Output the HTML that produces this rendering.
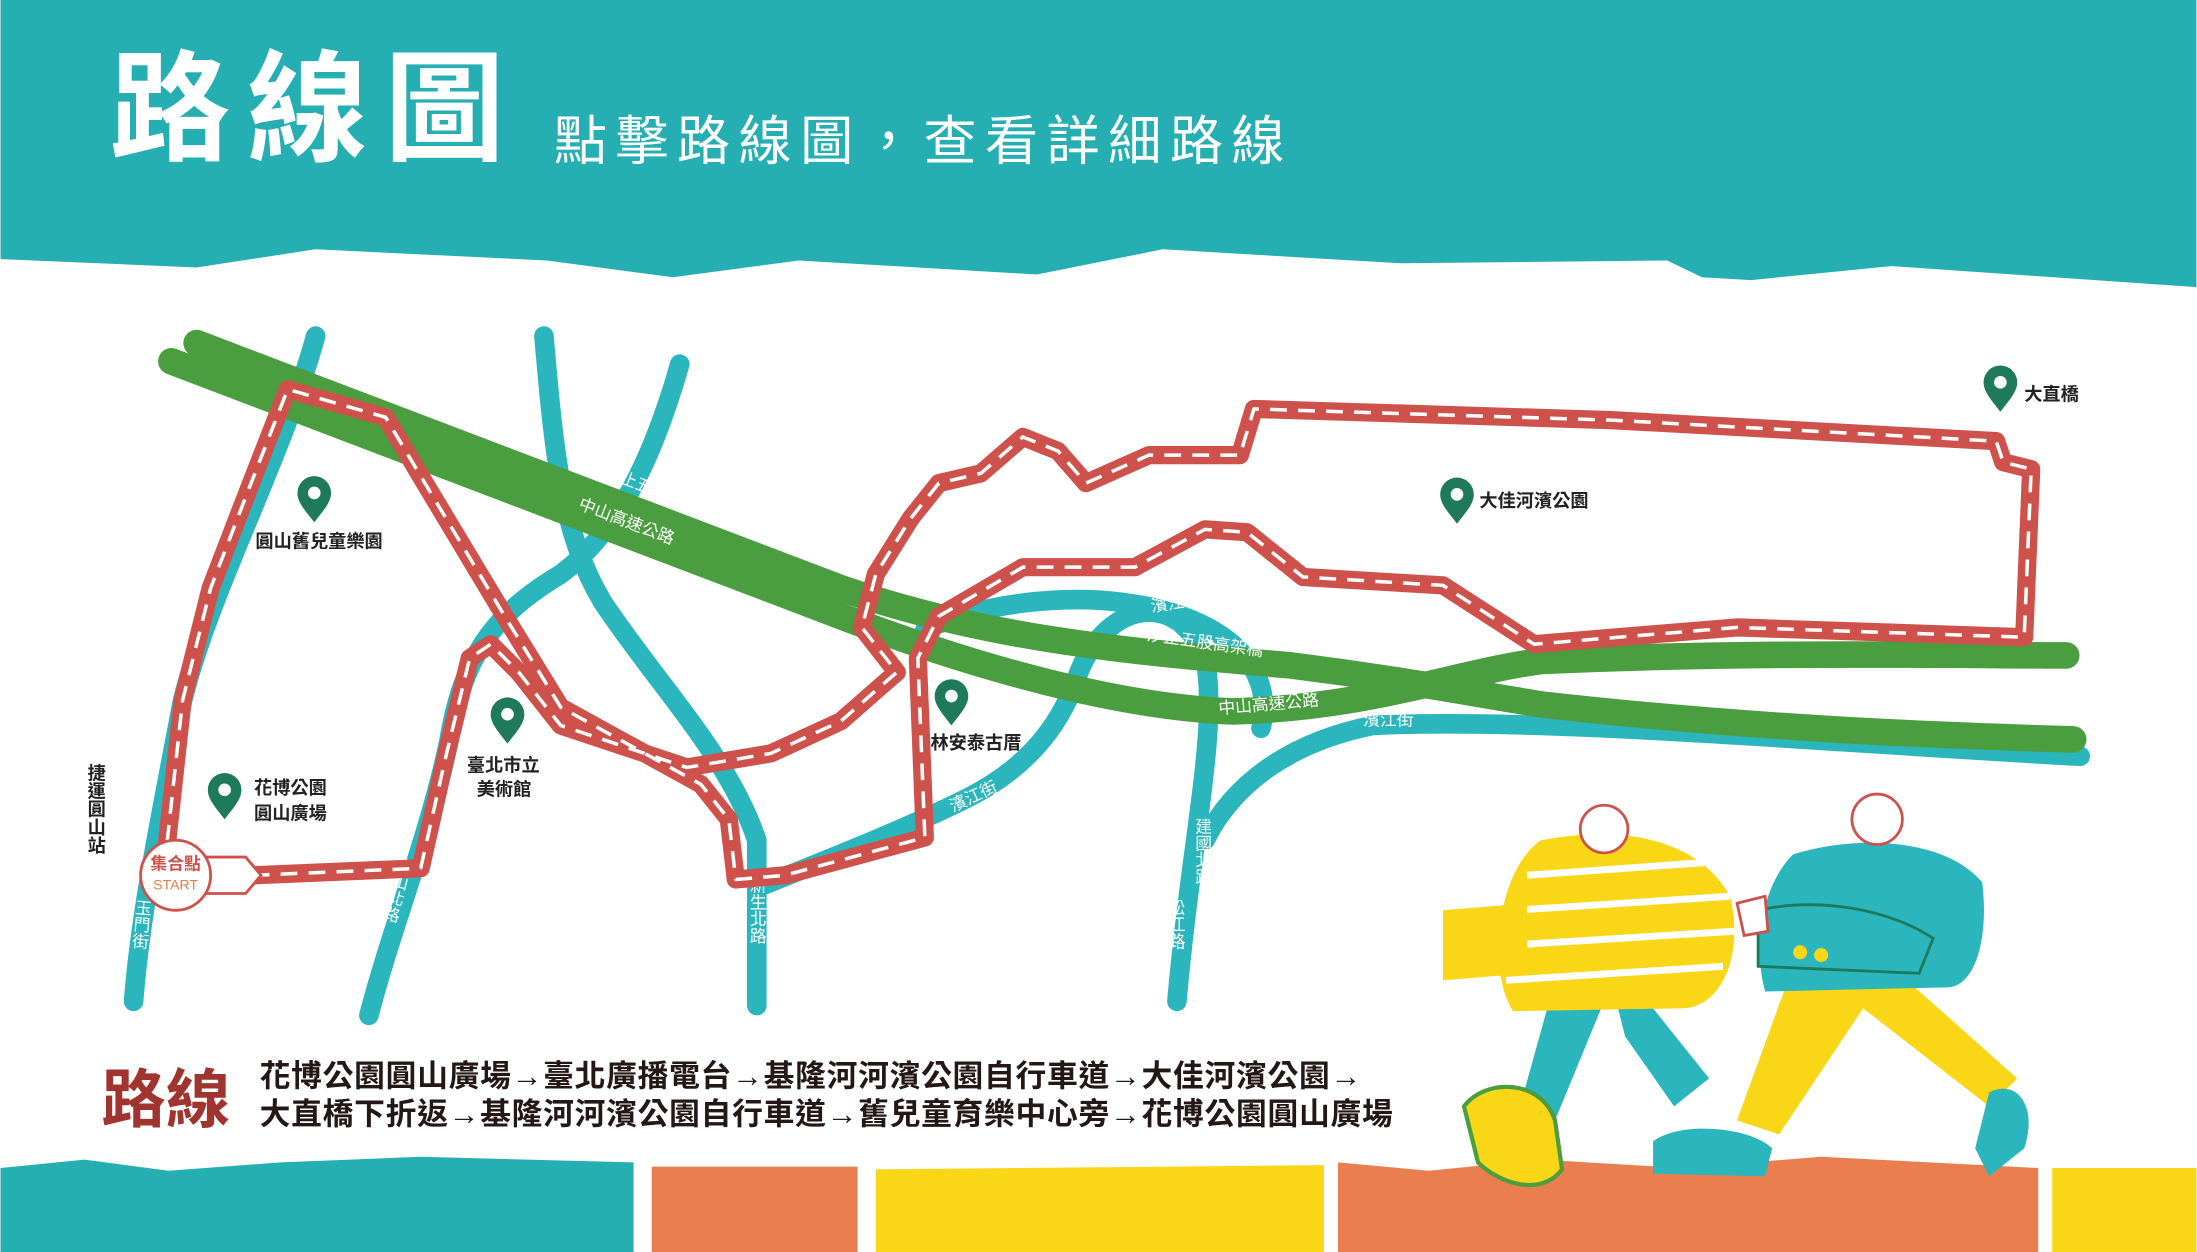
<!DOCTYPE html>
<html><head><meta charset="utf-8"><style>
html,body{margin:0;padding:0;background:#fff}
svg{display:block}
text{font-family:"Liberation Sans","Noto Sans CJK TC",sans-serif}
</style></head><body>
<svg width="2197" height="1252" viewBox="0 0 1568 894" xmlns="http://www.w3.org/2000/svg">
<rect width="1568" height="894" fill="#fff"/>
<path d="M0,0H1568V205L1350,190L1250,200L1215,198L1190,186L1000,188L830,178L740,196L570,186L480,198L390,186L225,178L140,191L0,185Z" fill="#25AFB3"/>
<text x="78" y="108" font-size="86" font-weight="bold" fill="#fff" letter-spacing="12">路線圖</text>
<text x="395" y="114" font-size="38" fill="#fff" letter-spacing="6">點擊路線圖，查看詳細路線</text>

<g fill="none" stroke="#2BB5BD" stroke-width="14" stroke-linecap="round" stroke-linejoin="round">
<path d="M225,240 C200,330 150,420 130,500 C115,580 100,650 95,715"/>
<path d="M388,240 C395,320 400,380 430,430 C470,490 520,540 540,600 L540,718"/>
<path d="M485,260 C465,330 440,380 400,410 C350,440 330,470 320,530 C305,600 280,660 263,725"/>
<path d="M545,632 C600,610 650,590 690,570 C740,545 760,510 770,480 C790,430 840,420 860,470 C870,520 850,600 840,715"/>
<path d="M660,450 C700,430 760,425 800,430 C880,440 910,480 900,520"/>
<path d="M860,600 C880,560 920,530 980,518 C1100,512 1300,530 1485,540"/>
</g>
<g fill="none" stroke="#4A9E3F" stroke-width="19" stroke-linecap="round" stroke-linejoin="round">
<path d="M140,245 L600,420 C700,455 800,465 920,475 C1000,485 1050,495 1100,503 C1250,520 1380,525 1480,528"/>
<path d="M122,258 L600,440 C700,478 800,505 880,508 C980,505 1040,480 1100,472 C1250,465 1400,468 1475,468"/>
</g>
<g font-size="12" fill="#fff">
<text transform="translate(430,340) rotate(21)">汐止五股高架橋</text>
<text transform="translate(412,363) rotate(21)">中山高速公路</text>
<text transform="translate(818,457) rotate(8)">汐止五股高架橋</text>
<text transform="translate(870,510) rotate(-5)">中山高速公路</text>
<text transform="translate(822,437) rotate(-8)">濱江街</text>
<text transform="translate(973,518)">濱江街</text>
<text transform="translate(680,580) rotate(-25)">濱江街</text>
</g>
<g font-size="12" fill="#fff" text-anchor="middle">
<text x="540" y="650" writing-mode="tb">新生北路</text>
<text x="858" y="608" writing-mode="tb">建國北路</text>
<text x="839" y="660" writing-mode="tb">松江路</text>
<text transform="translate(283,635) rotate(15)" writing-mode="tb">中山北路</text>
<text transform="translate(100,660) rotate(5)" writing-mode="tb">玉門街</text>
</g>
<g fill="none" stroke-linejoin="round">
<path d="M180,625 L300,620 L318,540 L335,470 L350,460 L370,480 L400,518 L490,548 L550,538 L600,515 L640,480 L615,448 L625,410 L650,370 L670,345 L700,338 L730,312 L755,322 L775,345 L820,325 L885,325 L895,292 L1150,300 L1425,315 L1430,330 L1450,335 L1445,455 L1240,448 L1095,460 L1030,418 L930,412 L890,380 L860,378 L810,405 L730,405 L670,440 L655,470 L660,598 L560,625 L525,628 L520,585 L500,560 L400,505 L360,440 L300,340 L275,298 L205,278 L175,355 L150,420 L130,500 L118,610" stroke="#CE524B" stroke-width="13"/>
<path d="M180,625 L300,620 L318,540 L335,470 L350,460 L370,480 L400,518 L490,548 L550,538 L600,515 L640,480 L615,448 L625,410 L650,370 L670,345 L700,338 L730,312 L755,322 L775,345 L820,325 L885,325 L895,292 L1150,300 L1425,315 L1430,330 L1450,335 L1445,455 L1240,448 L1095,460 L1030,418 L930,412 L890,380 L860,378 L810,405 L730,405 L670,440 L655,470 L660,598 L560,625 L525,628 L520,585 L500,560 L400,505 L360,440 L300,340 L275,298 L205,278 L175,355 L150,420 L130,500 L118,610" stroke="#fff" stroke-width="2.5" stroke-dasharray="12,8"/>
</g>
<g fill="#1E7A5A">
<g transform="translate(224,355)"><path d="M0,18 C-6,10 -12,4 -12,-3 A12,12 0 1 1 12,-3 C12,4 6,10 0,18Z"/><circle cy="-3" r="4.5" fill="#fff"/></g>
<g transform="translate(160,567)"><path d="M0,18 C-6,10 -12,4 -12,-3 A12,12 0 1 1 12,-3 C12,4 6,10 0,18Z"/><circle cy="-3" r="4.5" fill="#fff"/></g>
<g transform="translate(362,513)"><path d="M0,18 C-6,10 -12,4 -12,-3 A12,12 0 1 1 12,-3 C12,4 6,10 0,18Z"/><circle cy="-3" r="4.5" fill="#fff"/></g>
<g transform="translate(679,500)"><path d="M0,18 C-6,10 -12,4 -12,-3 A12,12 0 1 1 12,-3 C12,4 6,10 0,18Z"/><circle cy="-3" r="4.5" fill="#fff"/></g>
<g transform="translate(1040,356)"><path d="M0,18 C-6,10 -12,4 -12,-3 A12,12 0 1 1 12,-3 C12,4 6,10 0,18Z"/><circle cy="-3" r="4.5" fill="#fff"/></g>
<g transform="translate(1428,276)"><path d="M0,18 C-6,10 -12,4 -12,-3 A12,12 0 1 1 12,-3 C12,4 6,10 0,18Z"/><circle cy="-3" r="4.5" fill="#fff"/></g>
</g>
<g font-size="13" font-weight="bold" fill="#222">
<text x="182" y="391">圓山舊兒童樂園</text>
<text x="181" y="567">花博公園</text>
<text x="181" y="585">圓山廣場</text>
<text x="333" y="551">臺北市立</text>
<text x="340" y="568">美術館</text>
<text x="664" y="535">林安泰古厝</text>
<text x="1056" y="362">大佳河濱公園</text>
<text x="1445" y="286">大直橋</text>
<text x="68" y="545" writing-mode="tb" text-anchor="start">捷運圓山站</text>
</g>
<path d="M145,612 L175,612 L186,625 L175,638 L145,638Z" fill="#fff" stroke="#CE524B" stroke-width="2"/>
<circle cx="125" cy="625" r="25" fill="#fff" stroke="#CE524B" stroke-width="2"/>
<text x="125" y="621" font-size="12" font-weight="bold" fill="#CE524B" text-anchor="middle">集合點</text>
<text x="125" y="635" font-size="10" fill="#E87D3E" text-anchor="middle">START</text>
<text x="72" y="801" font-size="46" font-weight="bold" fill="#A0352F">路線</text>
<g font-size="22" font-weight="bold" fill="#231815" letter-spacing="0.5">
<text x="185" y="776">花博公園圓山廣場→臺北廣播電台→基隆河河濱公園自行車道→大佳河濱公園→</text>
<text x="185" y="803">大直橋下折返→基隆河河濱公園自行車道→舊兒童育樂中心旁→花博公園圓山廣場</text>
</g>
<path d="M0,834 L60,828 L120,836 L200,830 L300,826 L452,830 V894 H0Z" fill="#25AFB3"/>
<path d="M465,833 H612 V894 H465Z" fill="#EA7E4E"/>
<path d="M625,835 L945,832 V894 H625Z" fill="#F9D616"/>
<path d="M955,830 L1020,836 L1100,828 L1200,834 L1300,826 L1455,834 V894 H955Z" fill="#EA7E4E"/>
<path d="M1465,834 H1568 V894 H1465Z" fill="#F9D616"/>
<g>
<path d="M1110,700 L1085,790 L1110,800 L1145,715Z" fill="#2BB5BD"/>
<path d="M1150,700 L1180,720 L1220,770 L1195,790 L1160,740Z" fill="#2BB5BD"/>
<path d="M1045,790 C1060,770 1100,770 1110,800 L1115,835 C1100,855 1070,845 1055,830Z" fill="#F9D616" stroke="#4A9E3F" stroke-width="3"/>
<path d="M1100,600 C1150,590 1210,595 1235,640 C1245,680 1230,720 1200,720 L1080,722 C1060,690 1070,620 1100,600Z" fill="#F9D616"/>
<g stroke="#fff" stroke-width="5"><line x1="1090" y1="625" x2="1230" y2="615"/><line x1="1080" y1="650" x2="1235" y2="640"/><line x1="1075" y1="675" x2="1238" y2="665"/><line x1="1075" y1="700" x2="1230" y2="690"/></g>
<path d="M1030,650 L1090,645 L1090,695 L1030,700Z" fill="#F9D616"/>
<circle cx="1145" cy="592" r="17" fill="#fff" stroke="#CE524B" stroke-width="2"/>
<path d="M1280,690 L1350,690 L1440,770 L1420,790 L1330,720 L1270,810 L1240,800Z" fill="#F9D616"/>
<path d="M1180,815 C1200,800 1250,805 1265,820 L1260,840 L1180,838Z" fill="#2BB5BD"/>
<path d="M1420,780 C1440,770 1455,790 1445,820 L1420,840 L1410,820Z" fill="#2BB5BD"/>
<path d="M1280,610 C1330,595 1390,600 1415,630 C1420,670 1410,705 1390,705 L1260,708 C1250,670 1260,630 1280,610Z" fill="#2BB5BD"/>
<path d="M1255,650 C1300,640 1350,650 1380,670 L1370,695 L1255,690Z" fill="#2BB5BD" stroke="#1E7A5A" stroke-width="2"/>
<circle cx="1285" cy="680" r="5" fill="#F9D616"/><circle cx="1300" cy="682" r="5" fill="#F9D616"/>
<circle cx="1340" cy="585" r="18" fill="#fff" stroke="#CE524B" stroke-width="2"/>
<path d="M1240,645 L1260,640 L1262,665 L1245,668Z" fill="#fff" stroke="#CE524B" stroke-width="2"/>
</g>
</svg>
</body></html>
